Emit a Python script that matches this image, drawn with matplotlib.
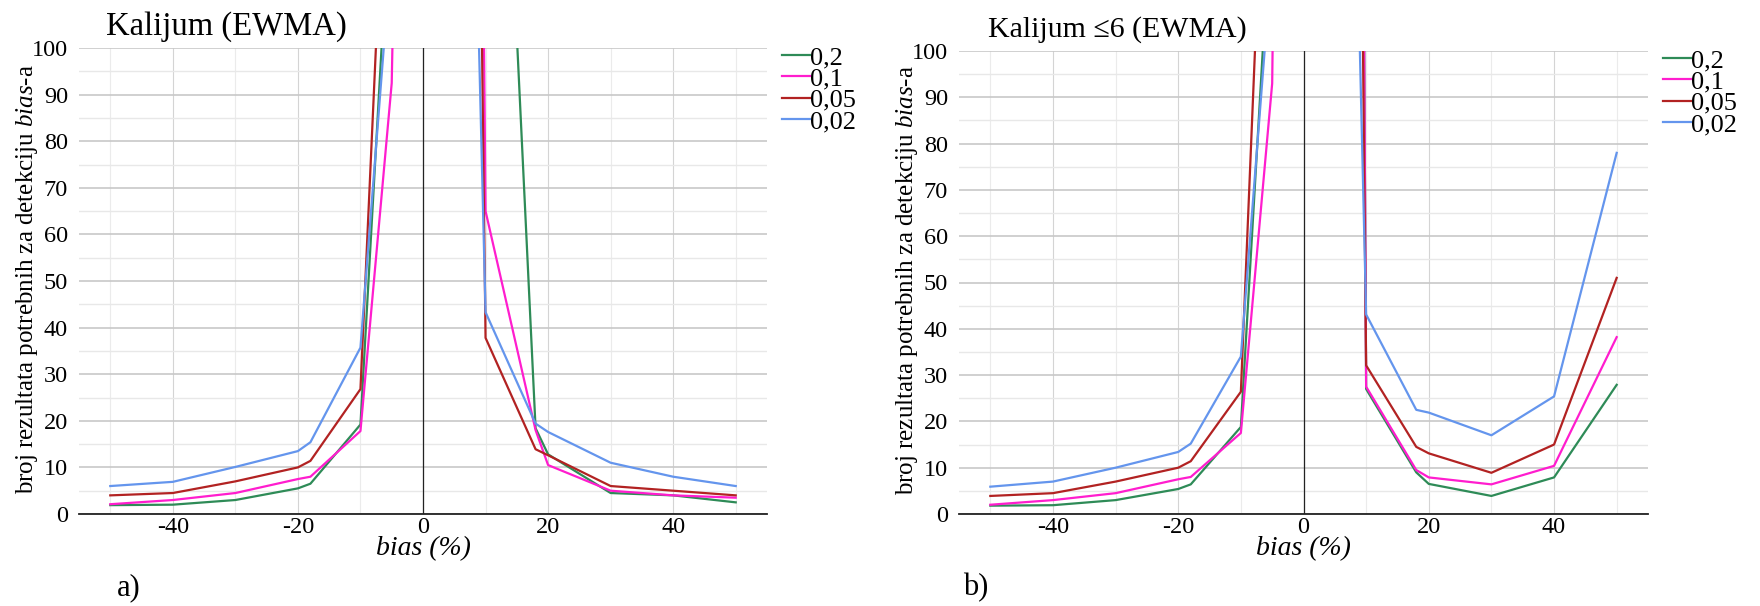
import matplotlib
matplotlib.use("Agg")
import matplotlib.pyplot as plt

plt.rcParams['font.family'] = ['Liberation Serif', 'DejaVu Serif']
plt.rcParams['mathtext.fontset'] = 'custom'
plt.rcParams['mathtext.rm'] = 'Liberation Serif'
plt.rcParams['mathtext.it'] = 'Liberation Serif:italic'
plt.rcParams['axes.unicode_minus'] = False

# bias (%) - tacke iznad 100 su van grafika (odsecene)
bias = [-50, -40, -30, -20, -18, -10, -5, 5, 10, 18, 20, 30, 40, 50]
labels = ['0,2', '0,1', '0,05', '0,02']
colors = ['#2e8b57', '#ff1dce', '#b22222', '#6495ed']

# a) Kalijum (EWMA)
a_02  = [1.9, 2.0, 3.0, 5.5, 6.5, 19.2, 139, 1000, 243, 18.4, 12.8, 4.5, 4.0, 2.5]
a_01  = [2.1, 3.0, 4.5, 7.5, 8.0, 17.8, 92.5, 795, 65, 18.0, 10.5, 5.0, 4.0, 3.5]
a_005 = [4.0, 4.5, 7.0, 10.0, 11.4, 26.8, 175, 593, 37.8, 13.9, 12.6, 6.0, 5.0, 4.0]
a_002 = [6.0, 6.9, 10.1, 13.5, 15.4, 35.7, 122, 316, 43.3, 19.4, 17.6, 11.0, 8.0, 6.0]

# b) Kalijum <=6 (EWMA)
b_02  = [1.8, 1.9, 3.0, 5.4, 6.4, 18.8, 135, 1200, 27.0, 9.0, 6.5, 3.9, 7.9, 27.9]
b_01  = [2.0, 3.0, 4.5, 7.5, 8.0, 17.5, 93, 1200, 27.5, 9.5, 7.9, 6.4, 10.4, 38.2]
b_005 = [3.9, 4.5, 7.0, 10.0, 11.4, 26.4, 190, 712, 32.1, 14.5, 13.1, 8.9, 15.0, 51.0]
b_002 = [5.9, 7.0, 10.0, 13.4, 15.2, 34.0, 121, 328, 43.1, 22.5, 21.9, 17.0, 25.4, 78.0]

W, H = 1760, 606
fig = plt.figure(figsize=(W / 100, H / 100), dpi=100)
ax1 = fig.add_axes([79 / W, 1 - 514 / H, 688 / W, 466 / H])
ax2 = fig.add_axes([959 / W, 1 - 514 / H, 689 / W, 463 / H])


def draw_panel(ax, series, title, title_xy, title_size, panel, panel_x):
    for vals, lab, c in zip(series, labels, colors):
        ax.plot(bias, vals, color=c, lw=1.6, label=lab)
    ax.set_xlim(-55, 55)
    ax.set_ylim(0, 100)
    ax.set_xticks(range(-40, 41, 20))
    ax.set_xticks([-50, -30, -10, 10, 30, 50], minor=True)
    ax.set_yticks(range(0, 101, 10))
    ax.set_yticks(range(5, 100, 10), minor=True)
    ax.grid(which='major', axis='y', color='#c8c8c8', lw=1.2)
    ax.grid(which='minor', axis='y', color='#e8e8e8', lw=1.0)
    ax.grid(which='major', axis='x', color='#d4d4d4', lw=0.8)
    ax.grid(which='minor', axis='x', color='#ebebeb', lw=0.8)
    ax.set_axisbelow(True)
    ax.axvline(0, color='#222222', lw=0.9, zorder=1.5)
    for s in ['top', 'right', 'left']:
        ax.spines[s].set_visible(False)
    ax.spines['bottom'].set_color('#222222')
    ax.spines['bottom'].set_linewidth(1.3)
    ax.tick_params(which='both', length=0)
    ax.tick_params(axis='y', labelsize=17.5, pad=8)
    ax.tick_params(axis='x', labelsize=17.5, pad=2)
    ax.text(-0.0756, 0.505, r'broj rezultata potrebnih za detekciju $\mathit{bias}$-a',
            transform=ax.transAxes, rotation=90, ha='center', va='center', fontsize=18)
    ax.set_xlabel('bias (%)', style='italic', fontsize=20)
    ax.xaxis.set_label_coords(0.5, -0.047)
    ax.legend(loc='upper left', bbox_to_anchor=(1 + 15 / 688, 1.005), frameon=False,
              fontsize=19, handlelength=1.05, handletextpad=0.0, labelspacing=-0.08,
              borderpad=0, borderaxespad=0)
    fig.text(title_xy[0] / W, 1 - title_xy[1] / H, title, fontsize=title_size, va='baseline')
    fig.text(panel_x / W, 1 - 588 / H, panel, fontsize=22, va='center')


draw_panel(ax1, [a_02, a_01, a_005, a_002], 'Kalijum (EWMA)', (106, 35), 23.5, 'a)', 117)
draw_panel(ax2, [b_02, b_01, b_005, b_002], 'Kalijum ≤6 (EWMA)', (988, 37), 21.5, 'b)', 963)

fig.savefig('out.png', dpi=100)
